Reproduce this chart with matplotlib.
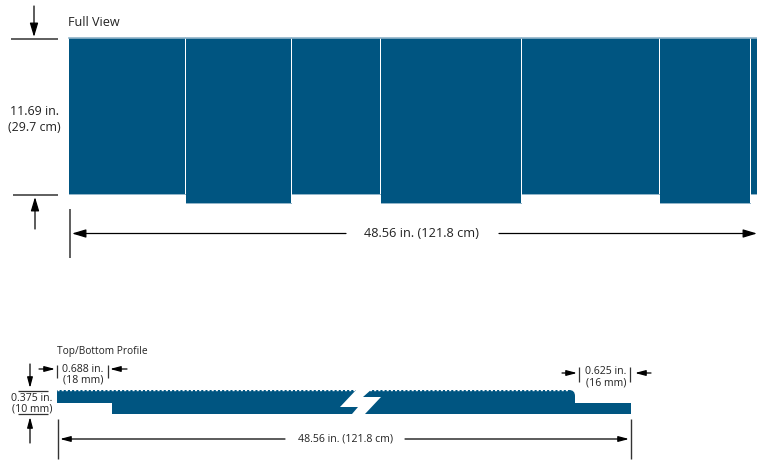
import matplotlib
matplotlib.use("Agg")
import matplotlib.pyplot as plt
from matplotlib.patches import Polygon, Rectangle, PathPatch
from matplotlib.path import Path

plt.rcParams["font.family"] = ["Open Sans", "DejaVu Sans"]

BLUE = "#005581"
EDGE = "#8fb3c8"
INK = "#222222"

# Full view panels, left/right/bottom in picture pixels
panel_left = [69, 186.3, 292.3, 381.3, 522.3, 660.3, 751.3]
panel_right = [185, 291, 380, 521, 659, 750, 757]
panel_bottom = [194, 203, 194, 203, 194, 203, 194]
panel_top = 38

# Top/bottom profile outline
profile_x = [57, 57, 112, 112, 631, 631, 575, 575]
profile_y = [390, 403, 403, 414, 414, 403, 403, 396]
break_x = [357, 340, 358, 352, 365, 381, 363, 372]
break_y = [389, 407, 407, 414, 414, 397, 397, 389]

full_height_lines = ["11.69 in.", "(29.7 cm)"]
width_label = "48.56 in. (121.8 cm)"

fig = plt.figure(figsize=(7.57, 4.61), dpi=100)
ax = fig.add_axes([0, 0, 1, 1])
ax.set_xlim(0, 757)
ax.set_ylim(461, 0)
ax.axis("off")


def line(xs, ys, lw=1.0, color="#333333"):
    ax.plot(xs, ys, color=color, lw=lw, solid_capstyle="butt", zorder=3)


def arrow(x0, y0, x1, y1, lw=0.9, small=False):
    # tail at x0,y0 and solid head at x1,y1
    style = "-|>,head_length=0.45,head_width=0.12" if small else "-|>,head_length=0.6,head_width=0.18"
    ax.annotate("", xy=(x1, y1), xytext=(x0, y0),
                arrowprops=dict(arrowstyle=style, color="black", lw=lw, shrinkA=0, shrinkB=0,
                                mutation_scale=14), zorder=4)


# Full view
for left, right, bottom in zip(panel_left, panel_right, panel_bottom):
    ax.add_patch(Rectangle((left, panel_top), right - left, bottom - panel_top,
                           facecolor=BLUE, edgecolor="none", zorder=2))
    ax.plot([left, right], [panel_top + 0.5, panel_top + 0.5], color=EDGE, lw=1.2, zorder=3)
    ax.plot([left, right], [bottom, bottom], color=EDGE, lw=0.7, zorder=3)

ax.text(68, 22, "Full View", fontsize=9.1, color=INK, va="center", ha="left")
ax.text(34.5, 111, full_height_lines[0], fontsize=8.9, color=INK, va="center", ha="center")
ax.text(34.5, 127, full_height_lines[1], fontsize=8.9, color=INK, va="center", ha="center")
line([11, 58], [39.5, 39.5], lw=1.1)
line([13, 58], [194.5, 194.5], lw=1.1)
arrow(34, 6, 34, 37)
arrow(35, 229, 35, 197)
line([70, 70], [209, 258], lw=1.1)
arrow(346, 233.5, 72, 233.5)
arrow(499, 233.5, 757, 233.5)
ax.text(422, 233.5, width_label, fontsize=9.2, color=INK, va="center", ha="center")

# Profile
ax.text(57, 351, "Top/Bottom Profile", fontsize=7.3, color=INK, va="center", ha="left")

path_v = list(zip(profile_x, profile_y)) + [(575, 390), (569, 390), (57, 390), (57, 390)]
path_c = [Path.MOVETO] + [Path.LINETO] * 7 + [Path.CURVE3, Path.CURVE3, Path.LINETO, Path.CLOSEPOLY]
ax.add_patch(PathPatch(Path(path_v, path_c), facecolor=BLUE, edgecolor="none", zorder=2))
ax.plot([57, 569], [390, 390], color="white", lw=1.0, ls=(0, (1.5, 1.5)), zorder=3)
ax.add_patch(Polygon(list(zip(break_x, break_y)), closed=True, facecolor="white", edgecolor="none", zorder=4))

# Profile dimensions
line([58, 58], [419, 459], lw=1.0)
line([631, 631], [419, 459], lw=1.0)
arrow(285, 439, 60, 439, small=True)
arrow(405, 439, 629, 439, small=True)
ax.text(346, 439, width_label, fontsize=7.6, color=INK, va="center", ha="center")

line([57, 57], [365, 378], lw=0.9)
line([108, 108], [365, 378], lw=0.9)
arrow(39, 369, 55, 369, small=True)
arrow(127, 369, 110, 369, small=True)
ax.text(83, 369, "0.688 in.", fontsize=7.6, color=INK, va="center", ha="center")
ax.text(83, 380, "(18 mm)", fontsize=7.6, color=INK, va="center", ha="center")

line([579, 579], [367, 382], lw=0.9)
line([630, 630], [367, 382], lw=0.9)
arrow(562, 373, 577, 373, small=True)
arrow(651, 373, 635, 373, small=True)
ax.text(606, 371, "0.625 in.", fontsize=7.6, color=INK, va="center", ha="center")
ax.text(606, 383, "(16 mm)", fontsize=7.6, color=INK, va="center", ha="center")

ax.text(32, 398, "0.375 in.", fontsize=7.6, color=INK, va="center", ha="center")
ax.text(32, 409, "(10 mm)", fontsize=7.6, color=INK, va="center", ha="center")
line([18, 48], [390.5, 390.5], lw=0.9)
line([18, 48], [414, 414], lw=0.9)
arrow(30, 364, 30, 388, small=True)
arrow(30, 443, 30, 417, small=True)

fig.savefig("out.png", dpi=100)
